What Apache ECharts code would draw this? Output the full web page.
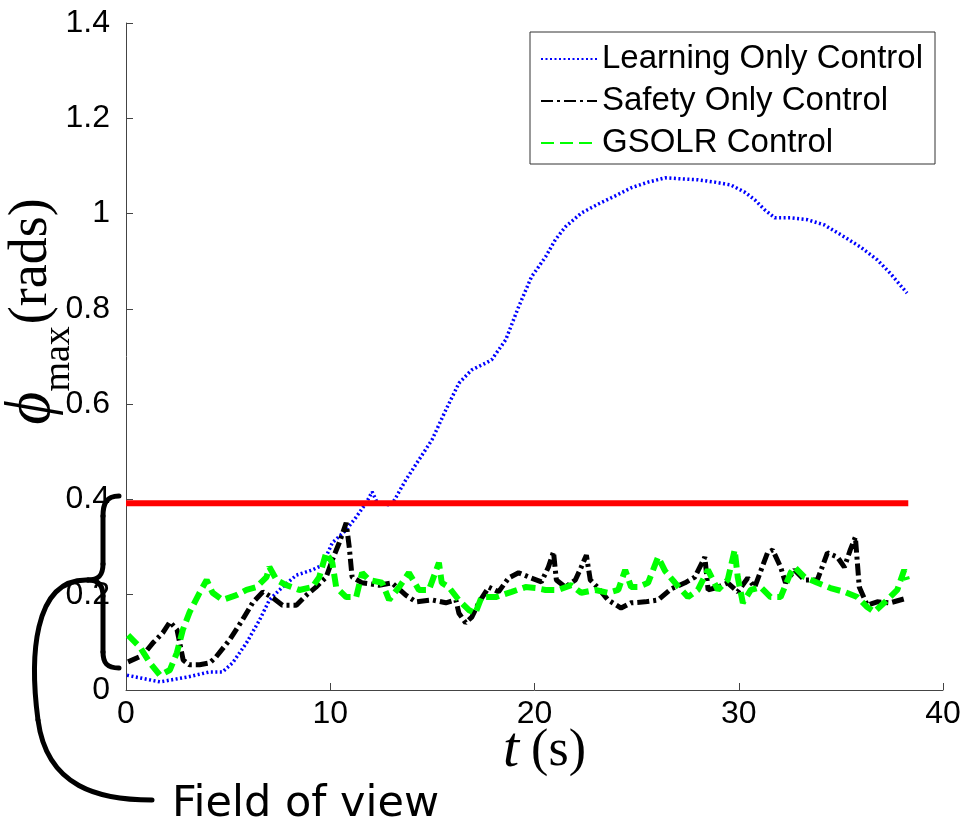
<!DOCTYPE html>
<html>
<head>
<meta charset="utf-8">
<script src="https://cdn.jsdelivr.net/npm/echarts@6/dist/echarts.min.js"></script>
<style>
  html, body { margin: 0; padding: 0; background: #fff; }
  #chart { width: 967px; height: 824px; }
</style>
</head>
<body>
<div id="chart"></div>
<script>
// Time axis (s) and value axis (rads) tick labels
const xTicks = ['0', '10', '20', '30', '40'];
const yTicks = ['0', '0.2', '0.4', '0.6', '0.8', '1', '1.2', '1.4'];

// Safety threshold on phi_max (rads), drawn over the run duration
const thresholdValue = 0.392;
const thresholdSpan = [0, 38.3];

// [t (s), phi_max (rads)]
const learningOnly = [
  [0.05, 0.031], [1.66, 0.017], [2.98, 0.027], [4.1, 0.038], [4.73, 0.038],
  [5.22, 0.057], [5.9, 0.099], [6.54, 0.147], [7.02, 0.189], [7.66, 0.216],
  [8.34, 0.241], [9.12, 0.252], [9.61, 0.262], [10.1, 0.309], [10.78, 0.336],
  [11.27, 0.363], [11.76, 0.393], [12.05, 0.416], [12.3, 0.393], [13.0, 0.388],
  [13.7, 0.441], [14.34, 0.483], [14.98, 0.525], [15.66, 0.588], [16.3, 0.644],
  [16.93, 0.672], [17.6, 0.686], [17.9, 0.693], [18.59, 0.735], [19.22, 0.804],
  [19.85, 0.867], [20.54, 0.909], [21.02, 0.945], [21.51, 0.972], [22.29, 1.001],
  [23.12, 1.02], [23.95, 1.037], [24.73, 1.054], [25.56, 1.066], [26.39, 1.075],
  [27.17, 1.073], [28.0, 1.071], [28.83, 1.066], [29.61, 1.06], [30.29, 1.045],
  [30.78, 1.029], [31.27, 1.008], [31.76, 0.991], [32.54, 0.991], [33.37, 0.987],
  [34.2, 0.976], [35.17, 0.951], [35.95, 0.93], [36.78, 0.903], [37.41, 0.875],
  [38.24, 0.833]
];

const safetyOnly = [
  [0.1, 0.059], [0.83, 0.073], [1.32, 0.099], [1.8, 0.12], [2.15, 0.143],
  [2.5, 0.126], [2.8, 0.063], [3.1, 0.053], [3.6, 0.053], [4.1, 0.057],
  [4.4, 0.069], [5.07, 0.105], [5.7, 0.147], [6.2, 0.183], [6.7, 0.206],
  [7.2, 0.193], [7.66, 0.178], [8.34, 0.178], [8.83, 0.199], [9.3, 0.216],
  [9.8, 0.237], [10.1, 0.273], [10.44, 0.309], [10.78, 0.351], [10.93, 0.3],
  [11.07, 0.237], [11.56, 0.225], [12.39, 0.22], [13.02, 0.225], [13.7, 0.199],
  [14.2, 0.185], [14.98, 0.189], [15.66, 0.183], [16.15, 0.189], [16.3, 0.161],
  [16.63, 0.141], [16.93, 0.153], [17.27, 0.183], [17.76, 0.216], [18.24, 0.206],
  [18.73, 0.235], [19.22, 0.246], [19.85, 0.235], [20.34, 0.227], [20.68, 0.258],
  [20.93, 0.29], [21.07, 0.231], [21.51, 0.216], [22.0, 0.231], [22.29, 0.258],
  [22.54, 0.283], [22.73, 0.231], [23.12, 0.214], [23.6, 0.189], [24.24, 0.172],
  [24.73, 0.183], [25.41, 0.185], [26.05, 0.189], [26.68, 0.212], [27.37, 0.225],
  [27.85, 0.237], [28.34, 0.279], [28.5, 0.21], [28.98, 0.216], [29.46, 0.225],
  [29.95, 0.206], [30.44, 0.235], [30.78, 0.216], [31.41, 0.288], [31.66, 0.294],
  [32.05, 0.258], [32.29, 0.225], [32.73, 0.252], [33.22, 0.231], [33.85, 0.231],
  [34.34, 0.288], [34.83, 0.279], [35.17, 0.258], [35.46, 0.294], [35.71, 0.321],
  [35.9, 0.216], [36.29, 0.178], [36.78, 0.185], [37.41, 0.183], [38.24, 0.193]
];

const gsolr = [
  [0.1, 0.115], [0.68, 0.09], [1.17, 0.057], [1.66, 0.031], [2.15, 0.042],
  [2.49, 0.078], [2.78, 0.126], [3.12, 0.164], [3.6, 0.204], [3.95, 0.231],
  [4.24, 0.204], [4.73, 0.189], [5.41, 0.199], [5.9, 0.21], [6.39, 0.216],
  [6.88, 0.237], [7.02, 0.258], [7.37, 0.231], [7.85, 0.22], [8.49, 0.21],
  [9.12, 0.216], [9.46, 0.237], [9.8, 0.288], [10.1, 0.267], [10.29, 0.216],
  [10.78, 0.195], [11.27, 0.195], [11.56, 0.246], [11.9, 0.231], [12.54, 0.225],
  [12.88, 0.189], [13.37, 0.216], [13.85, 0.246], [14.34, 0.21], [14.83, 0.21],
  [15.32, 0.267], [15.46, 0.225], [15.8, 0.216], [16.29, 0.189], [16.78, 0.168],
  [17.1, 0.161], [17.41, 0.195], [18.1, 0.195], [18.88, 0.206], [19.56, 0.216],
  [20.05, 0.214], [20.54, 0.21], [21.17, 0.21], [21.8, 0.22], [22.29, 0.204],
  [22.98, 0.21], [23.61, 0.204], [24.1, 0.21], [24.44, 0.252], [24.73, 0.216],
  [25.07, 0.216], [25.56, 0.225], [26.05, 0.279], [26.39, 0.25], [26.88, 0.225],
  [27.51, 0.195], [28.0, 0.21], [28.49, 0.252], [28.98, 0.21], [29.46, 0.231],
  [29.8, 0.294], [29.95, 0.237], [30.2, 0.183], [30.59, 0.21], [31.07, 0.216],
  [31.56, 0.195], [32.05, 0.195], [32.54, 0.246], [32.73, 0.258], [33.22, 0.237],
  [33.85, 0.225], [34.49, 0.214], [35.17, 0.206], [35.8, 0.195], [36.29, 0.174],
  [36.63, 0.164], [37.12, 0.183], [37.76, 0.21], [38.1, 0.252], [38.24, 0.231]
];

const seriesNames = ['Learning Only Control', 'Safety Only Control', 'GSOLR Control'];

const chart = echarts.init(document.getElementById('chart'), null, { renderer: 'canvas' });

const sansFont = '"Liberation Sans", Arial, sans-serif';
const serifFont = '"Liberation Serif", "DejaVu Serif", serif';

// Stroke style shared by the brace and its leader line
const braceStyle = { fill: null, stroke: '#000', lineWidth: 5, lineCap: 'round' };
const curve = (x1, y1, cpx1, cpy1, cpx2, cpy2, x2, y2) => ({
  type: 'bezierCurve', z: 100, silent: true,
  shape: { x1, y1, cpx1, cpy1, cpx2, cpy2, x2, y2 },
  style: braceStyle
});
const segment = (x1, y1, x2, y2) => ({
  type: 'line', z: 100, silent: true,
  shape: { x1, y1, x2, y2 },
  style: braceStyle
});

const option = {
  animation: false,
  backgroundColor: '#ffffff',
  grid: { left: 126, right: 24, top: 23, bottom: 134, containLabel: false, outerBoundsMode: 'none' },
  legend: {
    data: seriesNames,
    orient: 'vertical',
    left: 530,
    top: 32,
    padding: [9, 12, 3, 10],
    itemGap: 6,
    itemWidth: 56,
    itemHeight: 14,
    borderColor: '#333',
    borderWidth: 1,
    borderRadius: 0,
    backgroundColor: '#fff',
    itemStyle: { opacity: 0 },
    textStyle: { fontFamily: sansFont, fontSize: 33, color: '#000', lineHeight: 36 }
  },
  xAxis: {
    type: 'value',
    min: 0,
    max: 40,
    interval: 10,
    name: '{t|t}{p|(s)}',
    nameLocation: 'middle',
    nameMoveOverlap: false,
    nameGap: 32,
    nameTextStyle: {
      padding: [0, 0, 0, 20],
      rich: {
        t: { fontFamily: serifFont, fontStyle: 'italic', fontSize: 58, color: '#000', padding: [0, 12, 0, 0] },
        p: { fontFamily: serifFont, fontSize: 52, color: '#000' }
      }
    },
    axisLine: { show: true, lineStyle: { color: '#444', width: 1 } },
    axisTick: { show: true, inside: true, length: 7, lineStyle: { color: '#444' } },
    axisLabel: {
      margin: 8,
      fontFamily: sansFont,
      fontSize: 32,
      color: '#000',
      formatter: (v) => xTicks[Math.round(v / 10)]
    },
    splitLine: { show: false }
  },
  yAxis: {
    type: 'value',
    min: 0,
    max: 1.4,
    interval: 0.2,
    name: '{phi|\u03d5}{sub|max}{p|(rads)}',
    nameLocation: 'middle',
    nameRotate: 90,
    nameMoveOverlap: false,
    nameGap: 62,
    nameTextStyle: {
      padding: [0, 0, 0, 90],
      rich: {
        phi: { fontFamily: serifFont, fontStyle: 'italic', fontSize: 64, color: '#000' },
        sub: { fontFamily: serifFont, fontSize: 38, color: '#000', verticalAlign: 'bottom', padding: [0, 2, -14, 0] },
        p: { fontFamily: serifFont, fontSize: 54, color: '#000' }
      }
    },
    axisLine: { show: true, lineStyle: { color: '#444', width: 1 } },
    axisTick: { show: true, inside: true, length: 7, lineStyle: { color: '#444' } },
    axisLabel: {
      margin: 16,
      fontFamily: sansFont,
      fontSize: 32,
      color: '#000',
      formatter: (v) => yTicks[Math.round(v / 0.2)]
    },
    splitLine: { show: false }
  },
  series: [
    {
      name: seriesNames[0],
      type: 'line',
      data: learningOnly,
      showSymbol: false,
      symbol: 'none',
      lineStyle: { color: '#0000ff', width: 3.5, type: [2, 2.5] },
      itemStyle: { color: '#0000ff' },
      z: 2
    },
    {
      name: seriesNames[1],
      type: 'line',
      data: safetyOnly,
      showSymbol: false,
      symbol: 'none',
      lineStyle: { color: '#000000', width: 5, type: [12, 4, 3, 4] },
      itemStyle: { color: '#000000' },
      z: 3
    },
    {
      name: seriesNames[2],
      type: 'line',
      data: gsolr,
      showSymbol: false,
      symbol: 'none',
      lineStyle: { color: '#00ff00', width: 6, type: [13, 6] },
      itemStyle: { color: '#00ff00' },
      z: 4
    },
    {
      name: 'threshold',
      type: 'line',
      data: thresholdSpan.map((t) => [t, thresholdValue]),
      showSymbol: false,
      symbol: 'none',
      lineStyle: { color: '#ff0000', width: 6, type: 'solid' },
      itemStyle: { color: '#ff0000' },
      z: 5
    }
  ],
  graphic: [
    // curly brace marking the field-of-view band
    curve(119, 496, 106, 496, 103, 504, 103, 516),
    segment(103, 516, 103, 564),
    curve(103, 564, 103, 575, 99, 580, 88, 580),
    curve(88, 580, 99, 580, 103, 586, 103, 596),
    segment(103, 596, 103, 652),
    curve(103, 652, 103, 663, 107, 668, 119, 668),
    // leader from the brace to its caption
    curve(88, 580, 32, 578, 30, 660, 38, 720),
    curve(38, 720, 47, 788, 100, 800, 152, 800),
    {
      type: 'text',
      z: 100,
      silent: true,
      left: 172,
      top: 783,
      style: {
        text: 'Field of view',
        fontFamily: '"DejaVu Sans", Verdana, sans-serif',
        fontSize: 43,
        fill: '#000'
      }
    }
  ]
};

chart.setOption(option);
</script>
</body>
</html>
